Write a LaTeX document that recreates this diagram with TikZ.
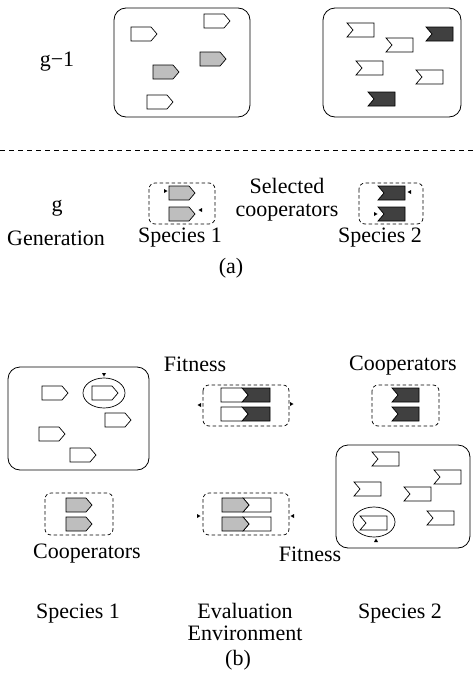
\documentclass[tikz,border=0pt]{standalone}
\usepackage{fontspec}
\setmainfont{Liberation Serif}
\definecolor{lg}{RGB}{190,190,190}
\definecolor{dg}{RGB}{64,64,64}
\tikzset{
  shp/.style={draw=black, line width=0.7pt, line join=miter},
  popbox/.style={draw=black, line width=0.8pt, rounded corners=12pt},
  selbox/.style={draw=black, line width=0.7pt, dash pattern=on 3.5pt off 2.5pt, rounded corners=6pt},
  lbl/.style={font=\fontsize{22}{22}\selectfont, inner sep=0pt},
  wpent/.pic={\draw[shp,fill=white] (0,0)--(20,0)--(26,7)--(20,14)--(0,14)--cycle;},
  gpent/.pic={\draw[shp,fill=lg] (0,0)--(20,0)--(26,7)--(20,14)--(0,14)--cycle;},
  wflag/.pic={\draw[shp,fill=white] (0,0)--(27,0)--(27,14)--(0,14)--(6,7)--cycle;},
  dflag/.pic={\draw[shp,fill=dg] (0,0)--(27,0)--(27,14)--(0,14)--(6,7)--cycle;},
  wdbar/.pic={\draw[shp,fill=dg] (21,0)--(49,0)--(49,14)--(21,14)--(27,7)--cycle;
              \draw[shp,fill=white] (0,0)--(21,0)--(27,7)--(21,14)--(0,14)--cycle;},
  gwbar/.pic={\draw[shp,fill=white] (21,0)--(49,0)--(49,14)--(21,14)--(27,7)--cycle;
              \draw[shp,fill=lg] (0,0)--(21,0)--(27,7)--(21,14)--(0,14)--cycle;},
  mk/.pic={\fill[black] (1.5,0)--(-2,-2)--(-2,2)--cycle;}
}
\begin{document}
\begin{tikzpicture}[x=1pt,y=-1pt]
\useasboundingbox (0,0) rectangle (475,688);
% ---------- (a) ----------
\draw[popbox] (114,8) rectangle (250,117);
\pic at (131,27) {wpent};
\pic at (204,14) {wpent};
\pic at (200,52) {gpent};
\pic at (153,65) {gpent};
\pic at (147,95) {wpent};
\draw[popbox] (323,8) rectangle (461,117);
\pic at (347,23) {wflag};
\pic at (386,38) {wflag};
\pic at (426,27) {dflag};
\pic at (356,61) {wflag};
\pic at (416,70) {wflag};
\pic at (368,92) {dflag};
\draw[line width=0.7pt, dash pattern=on 5pt off 4pt] (0,150) -- (475,150);
\node[lbl] (gm1) at (57,62) {g−1};
\node[lbl] (g) at (57,208) {g};
\draw[selbox] (149,183) rectangle (215,224);
\pic at (169,186) {gpent};
\pic at (169,207) {gpent};
\pic at (166,191) {mk};
\pic[rotate=180] at (200,210) {mk};
\node[lbl, align=center, font=\fontsize{22}{23}\selectfont] (sel) at (287,200) {Selected\\cooperators};
\draw[selbox] (359,183) rectangle (423,224);
\pic at (378,186) {dflag};
\pic at (378,207) {dflag};
\pic[rotate=180] at (409,192) {mk};
\pic at (376,214) {mk};
\node[lbl] (gen) at (56,238) {Generation};
\node[lbl] (spa1) at (180,238) {Species 1};
\node[lbl] (spa2) at (380,238) {Species 2};
\node[lbl] (a) at (231,268) {(a)};
% ---------- (b) ----------
\draw[popbox] (8,367) rectangle (149,470);
\pic at (42,386) {wpent};
\draw[line width=0.7pt] (104,393) ellipse [x radius=21, y radius=15];
\pic at (92,386) {wpent};
\pic at (105,413) {wpent};
\pic at (39,427) {wpent};
\pic at (70,448) {wpent};
\pic[rotate=-90] at (104,375) {mk};
\node[lbl] (fit1) at (195,364) {Fitness};
\draw[selbox] (203,385) rectangle (289,426);
\pic at (221,388) {wdbar};
\pic at (221,407) {wdbar};
\pic[rotate=180] at (199,405) {mk};
\pic at (292,404) {mk};
\node[lbl] (coop2) at (403,366) {Cooperators};
\draw[selbox] (372,385) rectangle (439,426);
\pic at (392,388) {dflag};
\pic at (392,407) {dflag};
\draw[popbox] (336,445) rectangle (470,548);
\pic at (372,452) {wflag};
\pic at (434,470) {wflag};
\pic at (354,482) {wflag};
\pic at (404,487) {wflag};
\pic at (427,511) {wflag};
\draw[line width=0.7pt] (374,522) ellipse [x radius=21, y radius=15];
\pic at (360,516) {wflag};
\pic[rotate=90] at (376,540) {mk};
\draw[selbox] (45,493) rectangle (113,535);
\pic at (66,498) {gpent};
\pic at (66,517) {gpent};
\node[lbl] (coop1) at (87,554) {Cooperators};
\draw[selbox] (203,493) rectangle (289,535);
\pic at (222,498) {gwbar};
\pic at (222,517) {gwbar};
\pic at (199,516) {mk};
\pic[rotate=180] at (292,516) {mk};
\node[lbl] (fit2) at (310,554) {Fitness};
\node[lbl] (spb1) at (78,614) {Species 1};
\node[lbl, align=center, font=\fontsize{22}{21.5}\selectfont] (ev) at (245,622) {Evaluation\\Environment};
\node[lbl] (spb2) at (400,614) {Species 2};
\node[lbl] (b) at (238,660) {(b)};
\end{tikzpicture}
\end{document}
